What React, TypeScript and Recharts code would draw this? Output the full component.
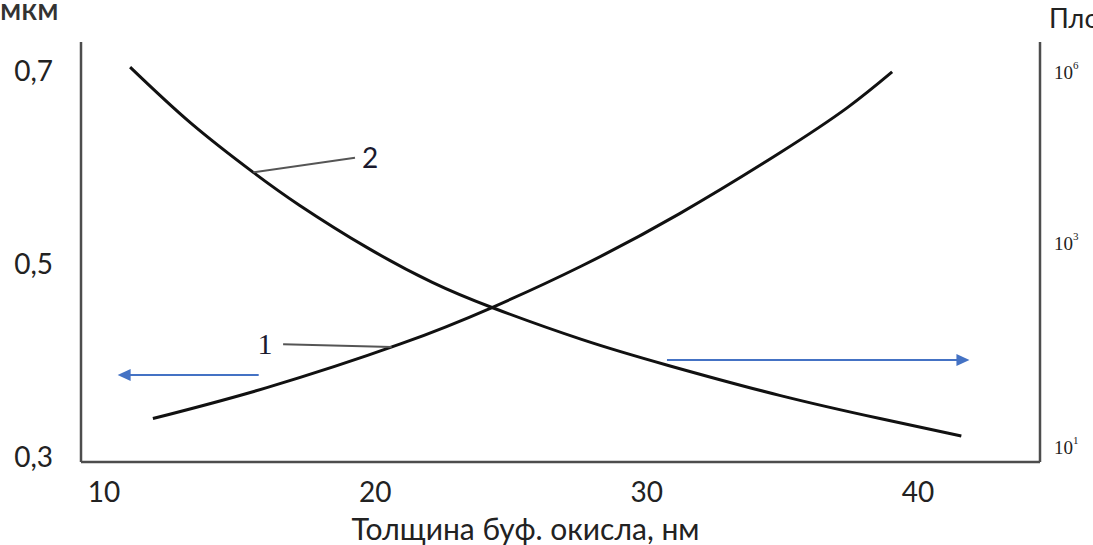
import { LineChart, Line, XAxis, YAxis, ReferenceLine, Label } from "recharts";

// Curve 1 (rising) and curve 2 (falling) in left-axis units
const curve1Thickness = [11.8, 16.0, 20.9, 24.3, 27.6, 31.2, 34.9, 37.4, 39.05];
const curve1Value = [0.341, 0.373, 0.418, 0.456, 0.499, 0.553, 0.616, 0.663, 0.7];
const curve2Thickness = [10.96, 13.2, 15.5, 17.2, 19.7, 22.1, 24.3, 27.6, 30.8, 34.9, 38.6, 41.6];
const curve2Value = [0.705, 0.647, 0.596, 0.562, 0.518, 0.482, 0.456, 0.423, 0.396, 0.365, 0.341, 0.323];

const xTicks = [10, 20, 30, 40];
const leftTicks = [0.3, 0.5, 0.7];
const leftTickLabels = ["0,3", "0,5", "0,7"];
// right axis: position (fraction of axis height) and exponent of 10
const rightTicks = [0.036, 0.521, 0.929];
const rightExponents = ["1", "3", "6"];

const curve1 = curve1Thickness.map((t, i) => ({ t, v: curve1Value[i] }));
const curve2 = curve2Thickness.map((t, i) => ({ t, v: curve2Value[i] }));

const AXIS = "#4d4d4d";
const ARROW = "#4472c4";
const FONT = "Lato, 'Open Sans', sans-serif";
const SERIF = "'Liberation Serif', serif";

const LeftTick = ({ x, y, payload }: any) => {
  const idx = leftTicks.indexOf(payload.value);
  return (
    <text x={x - 20} y={y + 2} textAnchor="end" dominantBaseline="middle" fontSize={28} fill="#222" fontFamily={FONT}>
      {leftTickLabels[idx]}
    </text>
  );
};

const XTick = ({ x, y, payload }: any) => (
  <text x={x} y={y + 32} textAnchor="middle" fontSize={28} fill="#222" fontFamily={FONT}>
    {payload.value}
  </text>
);

const RightTicks = ({ viewBox }: any) => (
  <g>
    {rightTicks.map((f, i) => (
      <text
        key={i}
        x={viewBox.x + 14}
        y={viewBox.y + viewBox.height * (1 - f) + 7}
        fontSize={19}
        fill="#222"
        fontFamily={SERIF}
      >
        10
        <tspan dy={-10} fontSize={11}>{rightExponents[i]}</tspan>
      </text>
    ))}
    <text x={1049} y={28} fontSize={27} fill="#222" fontFamily={FONT}>
      Плотность дефектов
    </text>
  </g>
);

const Arrow = ({ x1, y1, x2, y2 }: any) => {
  const dir = x2 > x1 ? 1 : -1;
  return (
    <g>
      <line x1={x1} y1={y1} x2={x2 - dir * 8} y2={y2} stroke={ARROW} strokeWidth={2} />
      <polygon points={`${x2},${y2} ${x2 - dir * 13},${y2 - 6} ${x2 - dir * 13},${y2 + 6}`} fill={ARROW} />
    </g>
  );
};

// leader line from curve to its number; label sits past the far end (or before the start)
const Leader = (text: string, before: boolean) => ({ x1, y1, x2, y2 }: any) => (
  <g>
    <line x1={x1} y1={y1} x2={x2} y2={y2} stroke="#555" strokeWidth={2} />
    <text
      x={before ? x1 - 18 : x2 + 15}
      y={(before ? y1 : y2) + 10}
      textAnchor="middle"
      fontSize={before ? 30 : 28}
      fill="#1a1a2e"
      fontFamily={before ? SERIF : FONT}
    >
      {text}
    </text>
  </g>
);

export default function App() {
  return (
    <div style={{ position: "absolute", left: 0, top: 0, width: 1093, height: 545, overflow: "hidden", background: "#fff" }}>
      <LineChart width={1093} height={545} margin={{ top: 42, right: 0, left: 0, bottom: 0 }}>
        <XAxis
          dataKey="t"
          type="number"
          domain={[9.15, 44.5]}
          ticks={xTicks}
          allowDataOverflow
          stroke={AXIS}
          strokeWidth={2.5}
          tickLine={false}
          tick={<XTick />}
          height={83}
        >
          <Label
            value="Толщина буф. окисла, нм"
            position="insideBottom"
            offset={5}
            dx={-35}
            fontSize={30}
            fill="#222"
            fontFamily={FONT}
          />
        </XAxis>
        <YAxis
          yAxisId="left"
          dataKey="v"
          type="number"
          domain={[0.296, 0.731]}
          ticks={leftTicks}
          allowDataOverflow
          width={81}
          stroke={AXIS}
          strokeWidth={2.5}
          tickLine={false}
          tick={<LeftTick />}
        >
          <Label
            content={() => (
              <text x={0} y={20} fontSize={30} fontWeight={600} fill="#333" fontFamily={FONT}>
                мкм
              </text>
            )}
          />
        </YAxis>
        <YAxis
          yAxisId="right"
          orientation="right"
          type="number"
          domain={[0, 1]}
          width={53}
          stroke={AXIS}
          strokeWidth={2.5}
          tickLine={false}
          tick={false}
        >
          <Label content={<RightTicks />} />
        </YAxis>
        <Line
          yAxisId="left"
          data={curve1}
          dataKey="v"
          type="natural"
          stroke="#111"
          strokeWidth={3}
          dot={false}
          isAnimationActive={false}
        />
        <Line
          yAxisId="left"
          data={curve2}
          dataKey="v"
          type="natural"
          stroke="#111"
          strokeWidth={3}
          dot={false}
          isAnimationActive={false}
        />
        {/* leader lines for curve numbers */}
        <ReferenceLine
          yAxisId="left"
          segment={[{ x: 15.5, y: 0.596 }, { x: 19.25, y: 0.611 }]}
          shape={Leader("2", false)}
          ifOverflow="visible"
        />
        <ReferenceLine
          yAxisId="left"
          segment={[{ x: 16.6, y: 0.418 }, { x: 20.6, y: 0.415 }]}
          shape={Leader("1", true)}
          ifOverflow="visible"
        />
        {/* axis pointer arrows */}
        <ReferenceLine
          yAxisId="left"
          segment={[{ x: 15.7, y: 0.386 }, { x: 10.5, y: 0.386 }]}
          shape={<Arrow />}
          ifOverflow="visible"
        />
        <ReferenceLine
          yAxisId="left"
          segment={[{ x: 30.75, y: 0.4016 }, { x: 41.9, y: 0.4016 }]}
          shape={<Arrow />}
          ifOverflow="visible"
        />
      </LineChart>
    </div>
  );
}
